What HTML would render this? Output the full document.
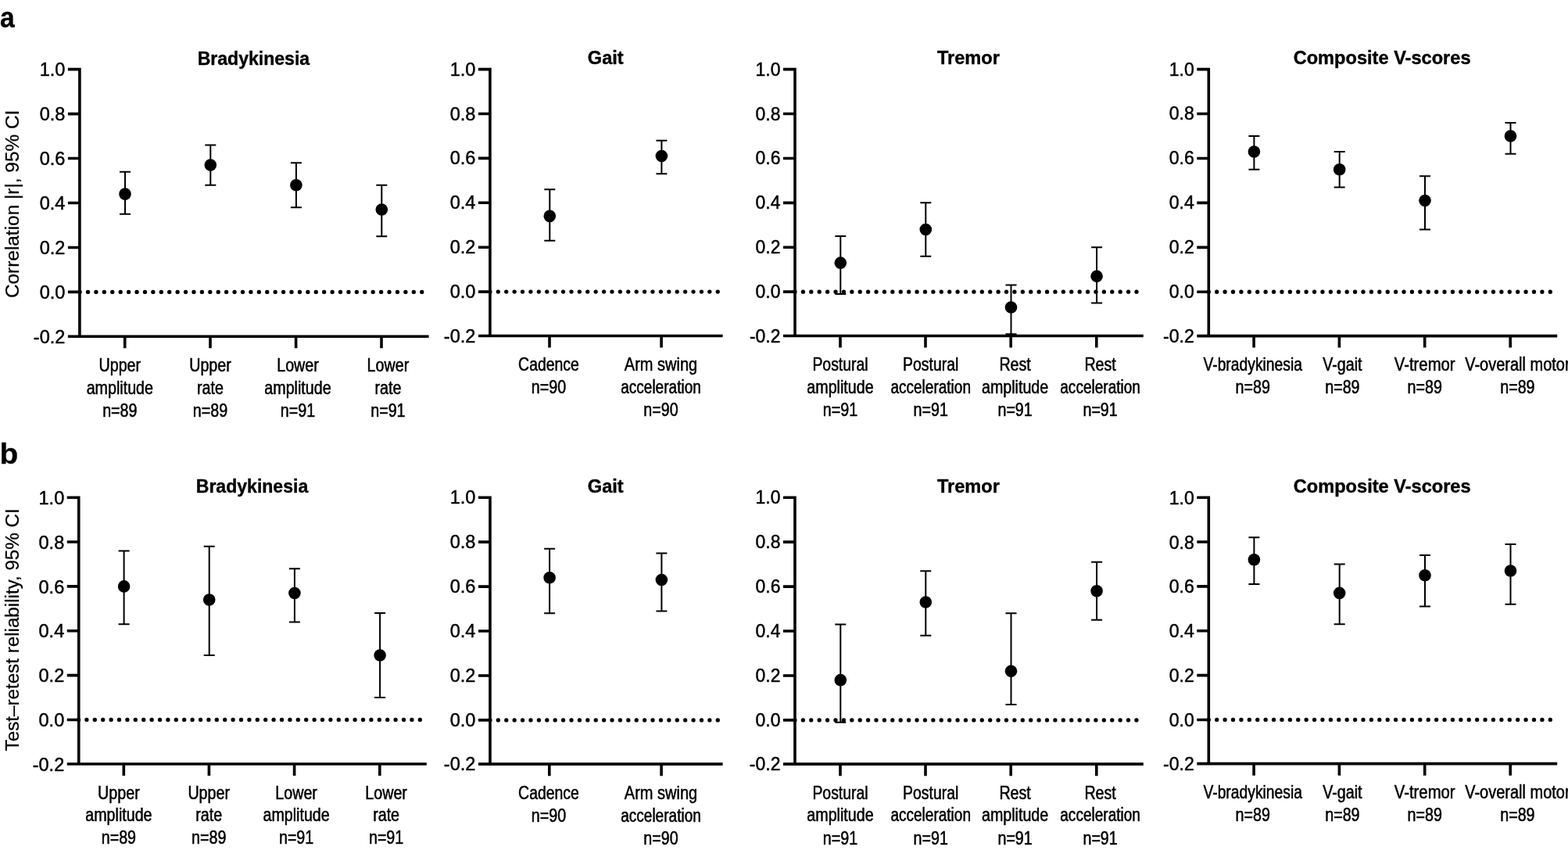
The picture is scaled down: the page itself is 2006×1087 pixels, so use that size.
<!DOCTYPE html>
<html lang="en">
<head>
<meta charset="utf-8">
<title>Correlation and test-retest reliability of digital motor measures</title>
<style>
html,body{margin:0;padding:0;background:#fff;}
body{width:2006px;height:1087px;overflow:hidden;}
svg{display:block;}
text{font-family:"Liberation Sans", sans-serif;fill:#000;}
.tk{font-size:24.6px;text-anchor:end;stroke:#000;stroke-width:0.5px;stroke-linejoin:round;}
.ti{font-size:23.0px;font-weight:bold;text-anchor:middle;stroke:#000;stroke-width:0.4px;stroke-linejoin:round;}
.lb{font-size:23.0px;text-anchor:middle;stroke:#000;stroke-width:0.55px;stroke-linejoin:round;}
.lt{font-size:37px;font-weight:bold;stroke:#000;stroke-width:0.3px;}
.yl{font-size:24.6px;text-anchor:middle;stroke:#000;stroke-width:0.25px;}
.ax{stroke:#000;stroke-width:3.6;fill:none;stroke-linecap:butt;}
.eb{stroke:#000;stroke-width:2.0;fill:none;}
.dt{stroke:#000;stroke-width:5.3;stroke-linecap:round;stroke-dasharray:0 10.405;fill:none;}
</style>
</head>
<body>
<svg width="2006" height="1087" viewBox="0 0 2006 1087">
<rect x="0" y="0" width="2006" height="1087" fill="#ffffff"/>
<g id="row-a">
<text class="lt" transform="translate(0 35.3) scale(0.91 1)" x="0" y="0">a</text>
<text class="yl" style="font-size:24.4px" transform="translate(24.4 260.9) rotate(-90)" x="0" y="0">Correlation |r|, 95% CI</text>
<g>
<text class="ti" style="font-size:23.05px" x="324.4" y="83.1">Bradykinesia</text>
<path class="ax" d="M101.9 86.85V430.2H548.6M86.9 88.65H101.9M86.9 145.6H101.9M86.9 202.55H101.9M86.9 259.5H101.9M86.9 316.45H101.9M86.9 373.4H101.9M86.9 430.2H103.7M159.7 430.2V445.2M269 430.2V445.2M378.6 430.2V445.2M488 430.2V445.2"/>
<text class="tk" transform="translate(83.4 97.15) scale(0.958 1)" x="0" y="0">1.0</text>
<text class="tk" transform="translate(83.4 154.1) scale(0.958 1)" x="0" y="0">0.8</text>
<text class="tk" transform="translate(83.4 211.05) scale(0.958 1)" x="0" y="0">0.6</text>
<text class="tk" transform="translate(83.4 268) scale(0.958 1)" x="0" y="0">0.4</text>
<text class="tk" transform="translate(83.4 324.95) scale(0.958 1)" x="0" y="0">0.2</text>
<text class="tk" transform="translate(83.4 381.9) scale(0.958 1)" x="0" y="0">0.0</text>
<text class="tk" transform="translate(83.4 438.7) scale(0.958 1)" x="0" y="0">-0.2</text>
<path class="dt" style="stroke-dasharray:0 10.42" d="M102.08 373.4H545.6"/>
<path class="eb" d="M160 219.63V273.74M153 219.63H167M153 273.74H167"/>
<circle cx="160" cy="248.11" r="7.8" fill="#000"/>
<path class="eb" d="M269.3 185.47V236.72M262.3 185.47H276.3M262.3 236.72H276.3"/>
<circle cx="269.3" cy="211.09" r="7.8" fill="#000"/>
<path class="eb" d="M378.9 208.25V265.19M371.9 208.25H385.9M371.9 265.19H385.9"/>
<circle cx="378.9" cy="236.72" r="7.8" fill="#000"/>
<path class="eb" d="M488.3 236.72V302.21M481.3 236.72H495.3M481.3 302.21H495.3"/>
<circle cx="488.3" cy="268.04" r="7.8" fill="#000"/>
<g transform="translate(153.3 474.8)">
<text class="lb" transform="translate(0 0) scale(0.8560 1)" x="0" y="0">Upper</text>
<text class="lb" transform="translate(0 29) scale(0.8560 1)" x="0" y="0">amplitude</text>
<text class="lb" transform="translate(0 58) scale(0.8560 1)" x="0" y="0">n=89</text>
</g>
<g transform="translate(269 474.8)">
<text class="lb" transform="translate(0 0) scale(0.8560 1)" x="0" y="0">Upper</text>
<text class="lb" transform="translate(0 29) scale(0.8560 1)" x="0" y="0">rate</text>
<text class="lb" transform="translate(0 58) scale(0.8560 1)" x="0" y="0">n=89</text>
</g>
<g transform="translate(381 474.8)">
<text class="lb" transform="translate(0 0) scale(0.8560 1)" x="0" y="0">Lower</text>
<text class="lb" transform="translate(0 29) scale(0.8560 1)" x="0" y="0">amplitude</text>
<text class="lb" transform="translate(0 58) scale(0.8560 1)" x="0" y="0">n=91</text>
</g>
<g transform="translate(496.4 474.8)">
<text class="lb" transform="translate(0 0) scale(0.8560 1)" x="0" y="0">Lower</text>
<text class="lb" transform="translate(0 29) scale(0.8560 1)" x="0" y="0">rate</text>
<text class="lb" transform="translate(0 58) scale(0.8560 1)" x="0" y="0">n=91</text>
</g>
</g>
<g>
<text class="ti" style="font-size:23.6px" x="774.8" y="82.3">Gait</text>
<path class="ax" d="M626.9 86.85V429.55H924.6M611.9 88.65H626.9M611.9 145.54H626.9M611.9 202.42H626.9M611.9 259.31H626.9M611.9 316.19H626.9M611.9 373.08H626.9M611.9 429.55H628.7M703 429.55V444.55M846.1 429.55V444.55"/>
<text class="tk" transform="translate(608.4 96.65) scale(0.958 1)" x="0" y="0">1.0</text>
<text class="tk" transform="translate(608.4 153.54) scale(0.958 1)" x="0" y="0">0.8</text>
<text class="tk" transform="translate(608.4 210.42) scale(0.958 1)" x="0" y="0">0.6</text>
<text class="tk" transform="translate(608.4 267.31) scale(0.958 1)" x="0" y="0">0.4</text>
<text class="tk" transform="translate(608.4 324.19) scale(0.958 1)" x="0" y="0">0.2</text>
<text class="tk" transform="translate(608.4 381.08) scale(0.958 1)" x="0" y="0">0.0</text>
<text class="tk" transform="translate(608.4 437.55) scale(0.958 1)" x="0" y="0">-0.2</text>
<path class="dt" style="stroke-dasharray:0 10.405" d="M626.9 373.08H921.6"/>
<path class="eb" d="M703.3 242.24V307.66M696.3 242.24H710.3M696.3 307.66H710.3"/>
<circle cx="703.3" cy="276.37" r="7.8" fill="#000"/>
<path class="eb" d="M846.4 179.67V222.33M839.4 179.67H853.4M839.4 222.33H853.4"/>
<circle cx="846.4" cy="199.58" r="7.8" fill="#000"/>
<g transform="translate(702 474)">
<text class="lb" transform="translate(0 0) scale(0.8449 1)" x="0" y="0">Cadence</text>
<text class="lb" transform="translate(0 29) scale(0.8560 1)" x="0" y="0">n=90</text>
</g>
<g transform="translate(845.5 474)">
<text class="lb" transform="translate(0 0) scale(0.8706 1)" x="0" y="0">Arm swing</text>
<text class="lb" transform="translate(0 29) scale(0.8278 1)" x="0" y="0">acceleration</text>
<text class="lb" transform="translate(0 58) scale(0.8560 1)" x="0" y="0">n=90</text>
</g>
</g>
<g>
<text class="ti" style="font-size:23.6px" x="1238.9" y="82.3">Tremor</text>
<path class="ax" d="M1017 86.85V429.5H1462.8M1002 88.65H1017M1002 145.55H1017M1002 202.45H1017M1002 259.35H1017M1002 316.25H1017M1002 373.15H1017M1002 429.5H1018.8M1075 429.5V444.5M1184 429.5V444.5M1293.2 429.5V444.5M1402.8 429.5V444.5"/>
<text class="tk" transform="translate(998.5 96.65) scale(0.934 1)" x="0" y="0">1.0</text>
<text class="tk" transform="translate(998.5 153.55) scale(0.934 1)" x="0" y="0">0.8</text>
<text class="tk" transform="translate(998.5 210.45) scale(0.934 1)" x="0" y="0">0.6</text>
<text class="tk" transform="translate(998.5 267.35) scale(0.934 1)" x="0" y="0">0.4</text>
<text class="tk" transform="translate(998.5 324.25) scale(0.934 1)" x="0" y="0">0.2</text>
<text class="tk" transform="translate(998.5 381.15) scale(0.934 1)" x="0" y="0">0.0</text>
<text class="tk" transform="translate(998.5 437.5) scale(0.934 1)" x="0" y="0">-0.2</text>
<path class="dt" style="stroke-dasharray:0 10.405" d="M1017 373.15H1459.8"/>
<path class="eb" d="M1075.3 302.02V376M1068.3 302.02H1082.3M1068.3 376H1082.3"/>
<circle cx="1075.3" cy="336.16" r="7.8" fill="#000"/>
<path class="eb" d="M1184.3 259.35V327.63M1177.3 259.35H1191.3M1177.3 327.63H1191.3"/>
<circle cx="1184.3" cy="293.49" r="7.8" fill="#000"/>
<path class="eb" d="M1293.5 364.62V427.21M1286.5 364.62H1300.5M1286.5 427.21H1300.5"/>
<circle cx="1293.5" cy="393.07" r="7.8" fill="#000"/>
<path class="eb" d="M1403.1 316.25V387.38M1396.1 316.25H1410.1M1396.1 387.38H1410.1"/>
<circle cx="1403.1" cy="353.24" r="7.8" fill="#000"/>
<g transform="translate(1075 474)">
<text class="lb" transform="translate(0 0) scale(0.8449 1)" x="0" y="0">Postural</text>
<text class="lb" transform="translate(0 29) scale(0.8560 1)" x="0" y="0">amplitude</text>
<text class="lb" transform="translate(0 58) scale(0.8560 1)" x="0" y="0">n=91</text>
</g>
<g transform="translate(1190.7 474)">
<text class="lb" transform="translate(0 0) scale(0.8449 1)" x="0" y="0">Postural</text>
<text class="lb" transform="translate(0 29) scale(0.8278 1)" x="0" y="0">acceleration</text>
<text class="lb" transform="translate(0 58) scale(0.8560 1)" x="0" y="0">n=91</text>
</g>
<g transform="translate(1298.6 474)">
<text class="lb" transform="translate(0 0) scale(0.8560 1)" x="0" y="0">Rest</text>
<text class="lb" transform="translate(0 29) scale(0.8560 1)" x="0" y="0">amplitude</text>
<text class="lb" transform="translate(0 58) scale(0.8560 1)" x="0" y="0">n=91</text>
</g>
<g transform="translate(1407.6 474)">
<text class="lb" transform="translate(0 0) scale(0.8560 1)" x="0" y="0">Rest</text>
<text class="lb" transform="translate(0 29) scale(0.8278 1)" x="0" y="0">acceleration</text>
<text class="lb" transform="translate(0 58) scale(0.8560 1)" x="0" y="0">n=91</text>
</g>
</g>
<g>
<text class="ti" style="font-size:23.6px" x="1768.1" y="82.2">Composite V-scores</text>
<path class="ax" d="M1546.3 86.85V429.6H1992.2M1531.3 88.65H1546.3M1531.3 145.57H1546.3M1531.3 202.49H1546.3M1531.3 259.41H1546.3M1531.3 316.33H1546.3M1531.3 373.25H1546.3M1531.3 429.6H1548.1M1604.1 429.6V444.6M1713.4 429.6V444.6M1822.7 429.6V444.6M1932.2 429.6V444.6"/>
<text class="tk" transform="translate(1527.8 96.55) scale(0.94 1)" x="0" y="0">1.0</text>
<text class="tk" transform="translate(1527.8 153.47) scale(0.94 1)" x="0" y="0">0.8</text>
<text class="tk" transform="translate(1527.8 210.39) scale(0.94 1)" x="0" y="0">0.6</text>
<text class="tk" transform="translate(1527.8 267.31) scale(0.94 1)" x="0" y="0">0.4</text>
<text class="tk" transform="translate(1527.8 324.23) scale(0.94 1)" x="0" y="0">0.2</text>
<text class="tk" transform="translate(1527.8 381.15) scale(0.94 1)" x="0" y="0">0.0</text>
<text class="tk" transform="translate(1527.8 437.5) scale(0.94 1)" x="0" y="0">-0.2</text>
<path class="dt" style="stroke-dasharray:0 10.405" d="M1546.3 373.25H1989.2"/>
<path class="eb" d="M1604.4 174.03V216.72M1597.4 174.03H1611.4M1597.4 216.72H1611.4"/>
<circle cx="1604.4" cy="193.95" r="7.8" fill="#000"/>
<path class="eb" d="M1713.7 193.95V239.49M1706.7 193.95H1720.7M1706.7 239.49H1720.7"/>
<circle cx="1713.7" cy="216.72" r="7.8" fill="#000"/>
<path class="eb" d="M1823 225.26V293.56M1816 225.26H1830M1816 293.56H1830"/>
<circle cx="1823" cy="256.56" r="7.8" fill="#000"/>
<path class="eb" d="M1932.5 156.95V196.8M1925.5 156.95H1939.5M1925.5 196.8H1939.5"/>
<circle cx="1932.5" cy="174.03" r="7.8" fill="#000"/>
<g transform="translate(1602.7 474)">
<text class="lb" transform="translate(0 0) scale(0.8397 1)" x="0" y="0">V-bradykinesia</text>
<text class="lb" transform="translate(0 29) scale(0.8560 1)" x="0" y="0">n=89</text>
</g>
<g transform="translate(1717.4 474)">
<text class="lb" transform="translate(0 0) scale(0.8560 1)" x="0" y="0">V-gait</text>
<text class="lb" transform="translate(0 29) scale(0.8560 1)" x="0" y="0">n=89</text>
</g>
<g transform="translate(1822.7 474)">
<text class="lb" transform="translate(0 0) scale(0.8834 1)" x="0" y="0">V-tremor</text>
<text class="lb" transform="translate(0 29) scale(0.8560 1)" x="0" y="0">n=89</text>
</g>
<g transform="translate(1941.4 474)">
<text class="lb" transform="translate(0 0) scale(0.8697 1)" x="0" y="0">V-overall motor</text>
<text class="lb" transform="translate(0 29) scale(0.8560 1)" x="0" y="0">n=89</text>
</g>
</g>
</g>
<g id="row-b">
<text class="lt" transform="translate(-0.4 592.5) scale(1.05 1)" x="0" y="0">b</text>
<text class="yl" style="font-size:24.2px" transform="translate(24.4 805.35) rotate(-90)" x="0" y="0">Test–retest reliability, 95% CI</text>
<g>
<text class="ti" style="font-size:23.05px" x="322.5" y="629.9">Bradykinesia</text>
<path class="ax" d="M100.75 634.4V977.05H545.8M85.75 636.2H100.75M85.75 693.05H100.75M85.75 749.9H100.75M85.75 806.75H100.75M85.75 863.6H100.75M85.75 920.45H100.75M85.75 977.05H102.55M158.3 977.05V992.05M267.4 977.05V992.05M376.6 977.05V992.05M485.8 977.05V992.05"/>
<text class="tk" transform="translate(82.25 644.9) scale(0.958 1)" x="0" y="0">1.0</text>
<text class="tk" transform="translate(82.25 701.75) scale(0.958 1)" x="0" y="0">0.8</text>
<text class="tk" transform="translate(82.25 758.6) scale(0.958 1)" x="0" y="0">0.6</text>
<text class="tk" transform="translate(82.25 815.45) scale(0.958 1)" x="0" y="0">0.4</text>
<text class="tk" transform="translate(82.25 872.3) scale(0.958 1)" x="0" y="0">0.2</text>
<text class="tk" transform="translate(82.25 929.15) scale(0.958 1)" x="0" y="0">0.0</text>
<text class="tk" transform="translate(82.25 985.75) scale(0.958 1)" x="0" y="0">-0.2</text>
<path class="dt" style="stroke-dasharray:0 10.4" d="M100.5 920.45H542.8"/>
<path class="eb" d="M158.6 704.42V798.22M151.6 704.42H165.6M151.6 798.22H165.6"/>
<circle cx="158.6" cy="749.9" r="7.8" fill="#000"/>
<path class="eb" d="M267.7 698.74V838.02M260.7 698.74H274.7M260.7 838.02H274.7"/>
<circle cx="267.7" cy="766.96" r="7.8" fill="#000"/>
<path class="eb" d="M376.9 727.16V795.38M369.9 727.16H383.9M369.9 795.38H383.9"/>
<circle cx="376.9" cy="758.43" r="7.8" fill="#000"/>
<path class="eb" d="M486.1 784.01V892.03M479.1 784.01H493.1M479.1 892.03H493.1"/>
<circle cx="486.1" cy="838.02" r="7.8" fill="#000"/>
<g transform="translate(151.9 1021.4)">
<text class="lb" transform="translate(0 0.6) scale(0.8560 1)" x="0" y="0">Upper</text>
<text class="lb" transform="translate(0 29) scale(0.8560 1)" x="0" y="0">amplitude</text>
<text class="lb" transform="translate(0 58) scale(0.8560 1)" x="0" y="0">n=89</text>
</g>
<g transform="translate(267.2 1021.4)">
<text class="lb" transform="translate(0 0.6) scale(0.8560 1)" x="0" y="0">Upper</text>
<text class="lb" transform="translate(0 29) scale(0.8560 1)" x="0" y="0">rate</text>
<text class="lb" transform="translate(0 58) scale(0.8560 1)" x="0" y="0">n=89</text>
</g>
<g transform="translate(379.1 1021.4)">
<text class="lb" transform="translate(0 0.6) scale(0.8560 1)" x="0" y="0">Lower</text>
<text class="lb" transform="translate(0 29) scale(0.8560 1)" x="0" y="0">amplitude</text>
<text class="lb" transform="translate(0 58) scale(0.8560 1)" x="0" y="0">n=91</text>
</g>
<g transform="translate(494.1 1021.4)">
<text class="lb" transform="translate(0 0.6) scale(0.8560 1)" x="0" y="0">Lower</text>
<text class="lb" transform="translate(0 29) scale(0.8560 1)" x="0" y="0">rate</text>
<text class="lb" transform="translate(0 58) scale(0.8560 1)" x="0" y="0">n=91</text>
</g>
</g>
<g>
<text class="ti" style="font-size:23.6px" x="774.8" y="629.9">Gait</text>
<path class="ax" d="M626.95 634.4V977.15H924.6M611.95 636.2H626.95M611.95 693.14H626.95M611.95 750.08H626.95M611.95 807.02H626.95M611.95 863.96H626.95M611.95 920.9H626.95M611.95 977.15H628.75M702.8 977.15V992.15M846.1 977.15V992.15"/>
<text class="tk" transform="translate(608.45 644.45) scale(0.958 1)" x="0" y="0">1.0</text>
<text class="tk" transform="translate(608.45 701.39) scale(0.958 1)" x="0" y="0">0.8</text>
<text class="tk" transform="translate(608.45 758.33) scale(0.958 1)" x="0" y="0">0.6</text>
<text class="tk" transform="translate(608.45 815.27) scale(0.958 1)" x="0" y="0">0.4</text>
<text class="tk" transform="translate(608.45 872.21) scale(0.958 1)" x="0" y="0">0.2</text>
<text class="tk" transform="translate(608.45 929.15) scale(0.958 1)" x="0" y="0">0.0</text>
<text class="tk" transform="translate(608.45 985.4) scale(0.958 1)" x="0" y="0">-0.2</text>
<path class="dt" style="stroke-dasharray:0 10.405" d="M626.95 920.9H921.6"/>
<path class="eb" d="M703.1 701.68V784.24M696.1 701.68H710.1M696.1 784.24H710.1"/>
<circle cx="703.1" cy="738.69" r="7.8" fill="#000"/>
<path class="eb" d="M846.4 707.38V781.4M839.4 707.38H853.4M839.4 781.4H853.4"/>
<circle cx="846.4" cy="741.54" r="7.8" fill="#000"/>
<g transform="translate(702 1022.4)">
<text class="lb" transform="translate(0 0) scale(0.8449 1)" x="0" y="0">Cadence</text>
<text class="lb" transform="translate(0 29) scale(0.8560 1)" x="0" y="0">n=90</text>
</g>
<g transform="translate(845.5 1022.4)">
<text class="lb" transform="translate(0 0) scale(0.8706 1)" x="0" y="0">Arm swing</text>
<text class="lb" transform="translate(0 29) scale(0.8278 1)" x="0" y="0">acceleration</text>
<text class="lb" transform="translate(0 58) scale(0.8560 1)" x="0" y="0">n=90</text>
</g>
</g>
<g>
<text class="ti" style="font-size:23.6px" x="1238.9" y="629.9">Tremor</text>
<path class="ax" d="M1016.95 634.4V977.15H1462.8M1001.95 636.2H1016.95M1001.95 693.14H1016.95M1001.95 750.08H1016.95M1001.95 807.02H1016.95M1001.95 863.96H1016.95M1001.95 920.9H1016.95M1001.95 977.15H1018.75M1075 977.15V992.15M1184 977.15V992.15M1293.2 977.15V992.15M1402.8 977.15V992.15"/>
<text class="tk" transform="translate(998.45 644.45) scale(0.934 1)" x="0" y="0">1.0</text>
<text class="tk" transform="translate(998.45 701.39) scale(0.934 1)" x="0" y="0">0.8</text>
<text class="tk" transform="translate(998.45 758.33) scale(0.934 1)" x="0" y="0">0.6</text>
<text class="tk" transform="translate(998.45 815.27) scale(0.934 1)" x="0" y="0">0.4</text>
<text class="tk" transform="translate(998.45 872.21) scale(0.934 1)" x="0" y="0">0.2</text>
<text class="tk" transform="translate(998.45 929.15) scale(0.934 1)" x="0" y="0">0.0</text>
<text class="tk" transform="translate(998.45 985.4) scale(0.934 1)" x="0" y="0">-0.2</text>
<path class="dt" style="stroke-dasharray:0 10.405" d="M1016.95 920.9H1459.8"/>
<path class="eb" d="M1075.3 798.48V923.75M1068.3 798.48H1082.3M1068.3 923.75H1082.3"/>
<circle cx="1075.3" cy="869.65" r="7.8" fill="#000"/>
<path class="eb" d="M1184.3 730.15V812.71M1177.3 730.15H1191.3M1177.3 812.71H1191.3"/>
<circle cx="1184.3" cy="770.01" r="7.8" fill="#000"/>
<path class="eb" d="M1293.5 784.24V900.97M1286.5 784.24H1300.5M1286.5 900.97H1300.5"/>
<circle cx="1293.5" cy="858.27" r="7.8" fill="#000"/>
<path class="eb" d="M1403.1 718.76V792.79M1396.1 718.76H1410.1M1396.1 792.79H1410.1"/>
<circle cx="1403.1" cy="755.77" r="7.8" fill="#000"/>
<g transform="translate(1075 1021.8)">
<text class="lb" transform="translate(0 0) scale(0.8449 1)" x="0" y="0">Postural</text>
<text class="lb" transform="translate(0 28.4) scale(0.8560 1)" x="0" y="0">amplitude</text>
<text class="lb" transform="translate(0 58) scale(0.8560 1)" x="0" y="0">n=91</text>
</g>
<g transform="translate(1190.7 1021.8)">
<text class="lb" transform="translate(0 0) scale(0.8449 1)" x="0" y="0">Postural</text>
<text class="lb" transform="translate(0 28.4) scale(0.8278 1)" x="0" y="0">acceleration</text>
<text class="lb" transform="translate(0 58) scale(0.8560 1)" x="0" y="0">n=91</text>
</g>
<g transform="translate(1298.6 1021.8)">
<text class="lb" transform="translate(0 0) scale(0.8560 1)" x="0" y="0">Rest</text>
<text class="lb" transform="translate(0 28.4) scale(0.8560 1)" x="0" y="0">amplitude</text>
<text class="lb" transform="translate(0 58) scale(0.8560 1)" x="0" y="0">n=91</text>
</g>
<g transform="translate(1407.6 1021.8)">
<text class="lb" transform="translate(0 0) scale(0.8560 1)" x="0" y="0">Rest</text>
<text class="lb" transform="translate(0 28.4) scale(0.8278 1)" x="0" y="0">acceleration</text>
<text class="lb" transform="translate(0 58) scale(0.8560 1)" x="0" y="0">n=91</text>
</g>
</g>
<g>
<text class="ti" style="font-size:23.6px" x="1768.2" y="629.9">Composite V-scores</text>
<path class="ax" d="M1546.3 634.4V976.65H1992.2M1531.3 636.2H1546.3M1531.3 693.05H1546.3M1531.3 749.89H1546.3M1531.3 806.74H1546.3M1531.3 863.58H1546.3M1531.3 920.43H1546.3M1531.3 976.65H1548.1M1604.1 976.65V991.65M1713.4 976.65V991.65M1822.7 976.65V991.65M1932.2 976.65V991.65"/>
<text class="tk" transform="translate(1527.8 644.8) scale(0.94 1)" x="0" y="0">1.0</text>
<text class="tk" transform="translate(1527.8 701.65) scale(0.94 1)" x="0" y="0">0.8</text>
<text class="tk" transform="translate(1527.8 758.49) scale(0.94 1)" x="0" y="0">0.6</text>
<text class="tk" transform="translate(1527.8 815.34) scale(0.94 1)" x="0" y="0">0.4</text>
<text class="tk" transform="translate(1527.8 872.18) scale(0.94 1)" x="0" y="0">0.2</text>
<text class="tk" transform="translate(1527.8 929.03) scale(0.94 1)" x="0" y="0">0.0</text>
<text class="tk" transform="translate(1527.8 985.25) scale(0.94 1)" x="0" y="0">-0.2</text>
<path class="dt" style="stroke-dasharray:0 10.405" d="M1546.3 920.43H1989.2"/>
<path class="eb" d="M1604.4 687.36V747.05M1597.4 687.36H1611.4M1597.4 747.05H1611.4"/>
<circle cx="1604.4" cy="715.78" r="7.8" fill="#000"/>
<path class="eb" d="M1713.7 721.47V798.21M1706.7 721.47H1720.7M1706.7 798.21H1720.7"/>
<circle cx="1713.7" cy="758.42" r="7.8" fill="#000"/>
<path class="eb" d="M1823 710.1V775.47M1816 710.1H1830M1816 775.47H1830"/>
<circle cx="1823" cy="735.68" r="7.8" fill="#000"/>
<path class="eb" d="M1932.5 695.89V772.63M1925.5 695.89H1939.5M1925.5 772.63H1939.5"/>
<circle cx="1932.5" cy="730" r="7.8" fill="#000"/>
<g transform="translate(1602.7 1021.2)">
<text class="lb" transform="translate(0 0) scale(0.8397 1)" x="0" y="0">V-bradykinesia</text>
<text class="lb" transform="translate(0 29) scale(0.8560 1)" x="0" y="0">n=89</text>
</g>
<g transform="translate(1717.4 1021.2)">
<text class="lb" transform="translate(0 0) scale(0.8560 1)" x="0" y="0">V-gait</text>
<text class="lb" transform="translate(0 29) scale(0.8560 1)" x="0" y="0">n=89</text>
</g>
<g transform="translate(1822.7 1021.2)">
<text class="lb" transform="translate(0 0) scale(0.8834 1)" x="0" y="0">V-tremor</text>
<text class="lb" transform="translate(0 29) scale(0.8560 1)" x="0" y="0">n=89</text>
</g>
<g transform="translate(1941.4 1021.2)">
<text class="lb" transform="translate(0 0) scale(0.8697 1)" x="0" y="0">V-overall motor</text>
<text class="lb" transform="translate(0 29) scale(0.8560 1)" x="0" y="0">n=89</text>
</g>
</g>
</g>
</svg>
</body>
</html>
